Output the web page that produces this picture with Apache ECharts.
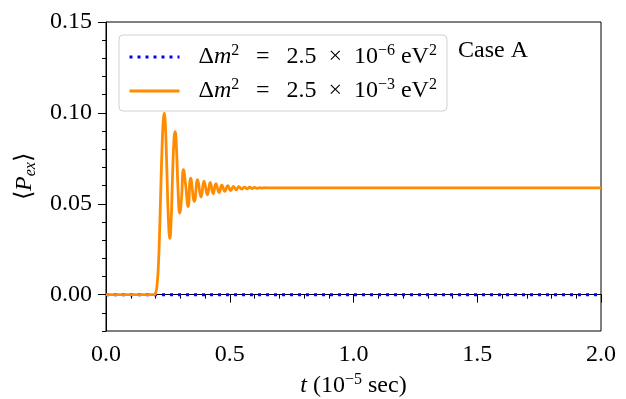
<!DOCTYPE html>
<html>
<head>
<meta charset="utf-8">
<script src="https://cdn.jsdelivr.net/npm/echarts@6/dist/echarts.min.js"></script>
<style>html,body{margin:0;background:#fff}#chart{width:626px;height:399px}</style>
</head>
<body>
<div id="chart"></div>
<script>
const xTicks = [0, 0.5, 1.0, 1.5, 2.0];
const yTicks = [0, 0.05, 0.10, 0.15];
const seriesNames = ['dm2_low', 'dm2_high'];
const legendLabels = [
  'Δ{i|m}{s|2}\u2002\u2009=\u2002\u20092.5\u2002×\u200210{s|−6} eV{s|2}',
  'Δ{i|m}{s|2}\u2002\u2009=\u2002\u20092.5\u2002×\u200210{s|−3} eV{s|2}'
];
// dm^2 = 2.5e-6: stays at zero
const lowMass = [[0, 0], [2.0, 0]];
// dm^2 = 2.5e-3: [t (1e-5 s), <P_ex>]
const highMass = [
  [0, 0], [0.1, 0], [0.196, 0], [0.201, 0.001], [0.206, 0.005], [0.211, 0.014],
  [0.216, 0.032], [0.221, 0.056], [0.226, 0.079], [0.231, 0.095], [0.235, 0.0998],
  [0.240, 0.093], [0.246, 0.068], [0.252, 0.042], [0.258, 0.031], [0.263, 0.040],
  [0.269, 0.066], [0.275, 0.086], [0.279, 0.0897], [0.285, 0.080], [0.291, 0.058],
  [0.298, 0.0449], [0.305, 0.053], [0.313, 0.0687], [0.322, 0.060], [0.332, 0.0485],
  [0.342, 0.0641], [0.357, 0.0513], [0.370, 0.0632], [0.384, 0.0537], [0.396, 0.0625],
  [0.410, 0.0549], [0.421, 0.0617], [0.433, 0.0555], [0.444, 0.0610], [0.457, 0.0562],
  [0.468, 0.0603], [0.480, 0.0568], [0.492, 0.0599], [0.504, 0.0573], [0.515, 0.0596],
  [0.526, 0.0577], [0.537, 0.0594], [0.548, 0.0580], [0.559, 0.0592], [0.570, 0.0582],
  [0.580, 0.0591], [0.590, 0.0584], [0.600, 0.0590], [0.610, 0.0585], [0.620, 0.0589],
  [0.630, 0.0586], [0.640, 0.0588], [0.650, 0.0587], [0.700, 0.0587], [1.000, 0.0587],
  [2.000, 0.0587]
];

const font = 'Liberation Serif';
const fs = 24;
const chart = echarts.init(document.getElementById('chart'));
chart.setOption({
  animation: false,
  grid: {
    left: 106, right: 25, top: 22, bottom: 68, outerBoundsMode: 'none',
    show: true, borderColor: '#000', borderWidth: 1
  },
  legend: {
    orient: 'vertical',
    left: 119, top: 35,
    padding: [8, 10, 8, 9],
    itemGap: 8,
    itemWidth: 50, itemHeight: 14,
    itemStyle: {color: 'rgba(0,0,0,0)', opacity: 0, borderWidth: 0},
    lineStyle: {width: 3},
    borderColor: '#d0d0d0', borderWidth: 1, borderRadius: 4,
    data: seriesNames,
    formatter: name => legendLabels[seriesNames.indexOf(name)],
    textStyle: {
      fontFamily: font, fontSize: fs, color: '#000', padding: [0, 0, 0, 14],
      rich: {
        i: {fontFamily: font, fontSize: fs, fontStyle: 'italic', lineHeight: 28},
        s: {fontFamily: font, fontSize: 16, verticalAlign: 'top', lineHeight: 18}
      }
    }
  },
  graphic: [{
    type: 'text', left: 458, top: 39,
    style: {text: 'Case A', font: fs + 'px "Liberation Serif"', fill: '#000'}
  }],
  xAxis: {
    type: 'value', min: 0, max: 2, interval: 0.5,
    name: '{i|t} (10{s|−5} sec)', nameLocation: 'middle', nameGap: 41,
    nameTextStyle: {
      fontFamily: font, fontSize: fs, color: '#000',
      rich: {
        i: {fontFamily: font, fontSize: fs, fontStyle: 'italic', lineHeight: 28},
        s: {fontFamily: font, fontSize: 16, verticalAlign: 'top', lineHeight: 18}
      }
    },
    axisLine: {lineStyle: {color: '#000', width: 1}},
    axisTick: {length: 8, lineStyle: {color: '#000'}},
    minorTick: {show: true, splitNumber: 5, length: 4, lineStyle: {color: '#000'}},
    axisLabel: {color: '#000', fontFamily: font, fontSize: fs, margin: 12, formatter: v => v.toFixed(1)},
    splitLine: {show: false}
  },
  yAxis: [{
    type: 'value', min: -0.02, max: 0.15, interval: 0.01, position: 'left',
    axisLine: {show: true, lineStyle: {color: '#000', width: 1}},
    axisTick: {length: 4, lineStyle: {color: '#000'}},
    axisLabel: {show: false},
    splitLine: {show: false}
  }, {
    type: 'value', min: -0.02, max: 0.15, position: 'left', offset: 0,
    name: '⟨{i|P}{b|ex}⟩', nameLocation: 'middle', nameGap: 65, nameRotate: 90,
    nameTextStyle: {
      fontFamily: font, fontSize: fs, color: '#000',
      rich: {
        i: {fontFamily: font, fontSize: fs, fontStyle: 'italic', lineHeight: 28},
        b: {fontFamily: font, fontSize: 16, fontStyle: 'italic', verticalAlign: 'bottom', lineHeight: 16}
      }
    },
    axisLine: {show: false},
    axisTick: {show: true, customValues: yTicks, length: 8, lineStyle: {color: '#000'}},
    axisLabel: {show: true, customValues: yTicks, color: '#000', fontFamily: font, fontSize: fs, margin: 14, formatter: v => v.toFixed(2)},
    splitLine: {show: false}
  }],
  series: [{
    name: seriesNames[0], type: 'line', data: lowMass, yAxisIndex: 0,
    showSymbol: false, symbol: 'none',
    lineStyle: {color: '#0000ff', width: 3, type: [3, 5]},
    itemStyle: {color: '#0000ff'}
  }, {
    name: seriesNames[1], type: 'line', data: highMass, yAxisIndex: 0,
    showSymbol: false, symbol: 'none', smooth: 0.5,
    lineStyle: {color: '#ff8c00', width: 2.8},
    itemStyle: {color: '#ff8c00'}
  }]
});
</script>
</body>
</html>
